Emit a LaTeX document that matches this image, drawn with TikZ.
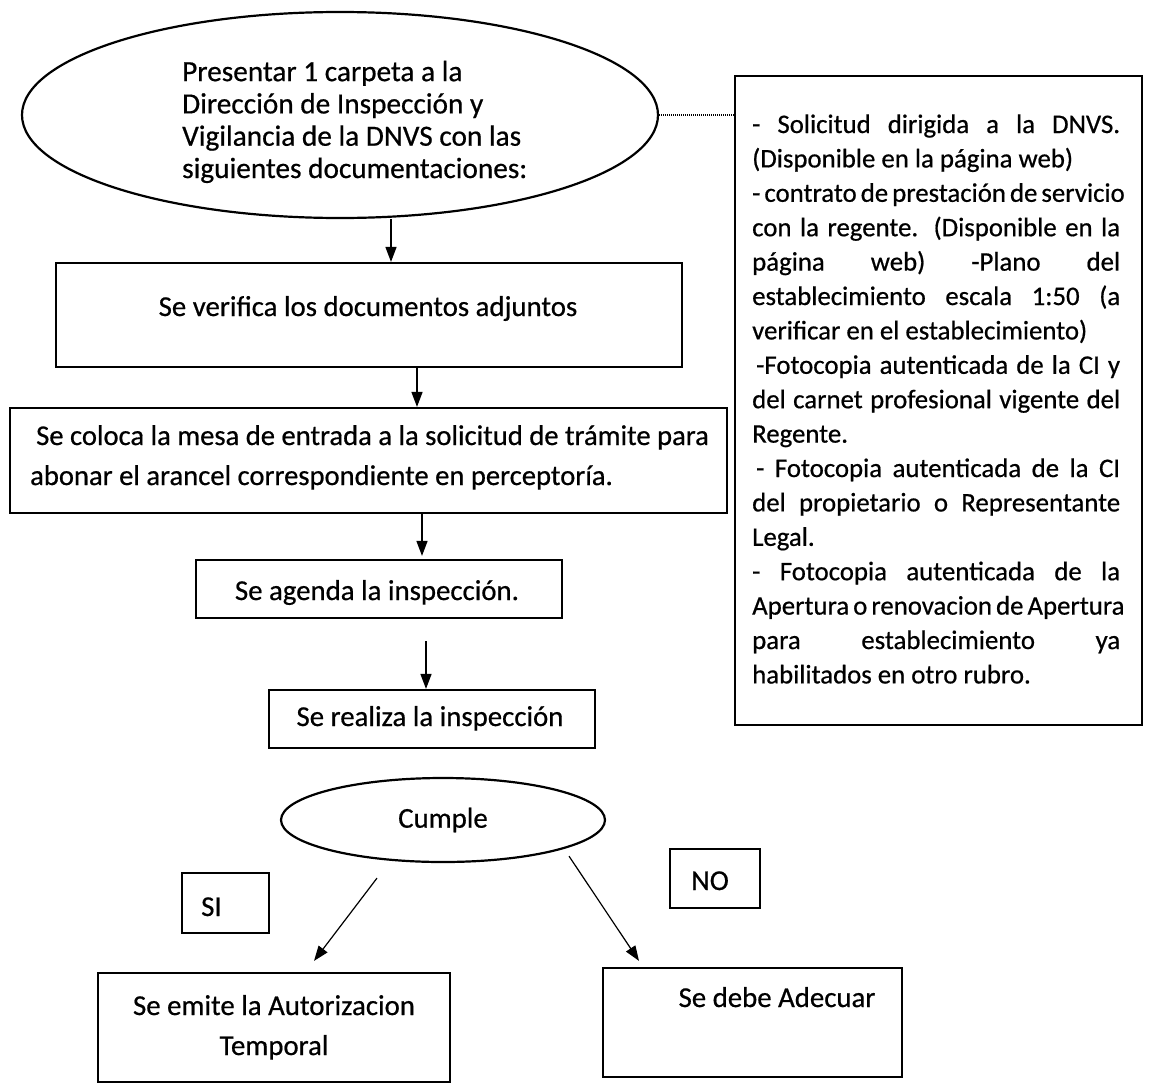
\documentclass[tikz,border=0pt]{standalone}
\usepackage{fontspec}
\setmainfont{Carlito}[FakeBold=0.6]
\usetikzlibrary{shapes.geometric,arrows.meta}
\begin{document}
\begin{tikzpicture}[x=1pt,y=-1pt,
  box/.style={draw,line width=2.2pt,rectangle,inner sep=0pt},
  oval/.style={draw,line width=2.2pt,ellipse,inner sep=0pt},
  txt/.style={inner sep=0pt,font=\fontsize{28.8}{34}\selectfont},
  arr/.style={line width=1.5pt,-{Triangle[length=15pt,width=11pt]}},
  thinarr/.style={line width=1.2pt,-{Triangle[length=15pt,width=11pt]}},
  dotline/.style={line width=1.1pt,dash pattern=on 1.2pt off 0.8pt}]
\useasboundingbox (0,0) rectangle (1156,1084);
\fill[white] (0,0) rectangle (1156,1084);

% top ellipse
\node[oval,minimum width=636pt,minimum height=206pt] (e1) at (340,115) {};
\node[txt,anchor=base west,align=left,font=\fontsize{29.3}{32.3}\selectfont] (t1) at (182,178)
  {Presentar 1 carpeta a la\\Dirección de Inspección y\\Vigilancia de la DNVS con las\\siguientes documentaciones:};

% right box
\node[box,minimum width=407pt,minimum height=649pt] (rb) at (938.5,400.5) {};
\node[txt,anchor=base west,align=left,font=\fontsize{26.8}{34.4}\selectfont] (t2) at (752,683.4)
  {\makebox[368pt][s]{- Solicitud dirigida a la DNVS.}\\
   (Disponible en la página web)\\
   \makebox[368pt][s]{- contrato de prestación de servicio}\\
   \makebox[368pt][s]{con la regente. (Disponible en la}\\
   \makebox[368pt][s]{página web) -Plano del}\\
   \makebox[368pt][s]{establecimiento escala 1:50 (a}\\
   verificar en el establecimiento)\\
   \makebox[368pt][s]{\hspace{4pt}-Fotocopia autenticada de la CI y}\\
   \makebox[368pt][s]{del carnet profesional vigente del}\\
   Regente.\\
   \makebox[368pt][s]{\hspace{4pt}- Fotocopia autenticada de la CI}\\
   \makebox[368pt][s]{del propietario o Representante}\\
   Legal.\\
   \makebox[368pt][s]{- Fotocopia autenticada de la}\\
   \makebox[368pt][s]{Apertura o renovacion de Apertura}\\
   \makebox[368pt][s]{para establecimiento ya}\\
   habilitados en otro rubro.};

\draw[dotline] (e1.east) -- (e1.east -| rb.west);

% flow boxes
\node[box,minimum width=626pt,minimum height=104pt] (b2) at (369,315) {};
\node[txt,anchor=base] (t3) at (368,316) {Se verifica los documentos adjuntos};

\node[box,minimum width=717pt,minimum height=105pt] (b3) at (368.5,460.5) {};
\node[txt,anchor=base west,align=left,font=\fontsize{28.6}{40}\selectfont] (t4) at (30,485)
  {\hspace{6pt}Se coloca la mesa de entrada a la solicitud de trámite para\\abonar el arancel correspondiente en perceptoría.};

\node[box,minimum width=366pt,minimum height=58pt] (b4) at (379,589) {};
\node[txt,anchor=base] (t5) at (377,600) {Se agenda la inspección.};

\node[box,minimum width=326pt,minimum height=58pt] (b5) at (432,719) {};
\node[txt,anchor=base] (t6) at (430,726) {Se realiza la inspección};

\node[oval,minimum width=324pt,minimum height=84pt,txt] (e2) at (443,820) {Cumple};

\node[box,minimum width=87pt,minimum height=60pt] (s1) at (225.5,903) {};
\node[txt,anchor=base west] (st) at (201,916) {SI};
\node[box,minimum width=90pt,minimum height=59pt] (n1) at (715,878.5) {};
\node[txt,anchor=base] (nt) at (710,890) {NO};

\node[box,minimum width=352pt,minimum height=109pt] (r1) at (274,1027.5) {};
\node[txt,anchor=base,align=center,font=\fontsize{28.8}{40}\selectfont] (rt1) at (274,1055)
  {Se emite la Autorizacion\\Temporal};
\node[box,minimum width=299pt,minimum height=109pt] (r2) at (752.5,1022.5) {};
\node[txt,anchor=base] (rt2) at (777,1007) {Se debe Adecuar};

% connectors
\draw[arr] ([xshift=51pt]e1.south) -- ([xshift=22pt]b2.north);
\draw[arr] ([xshift=48pt]b2.south) -- ([xshift=48.5pt]b3.north);
\draw[arr] ([xshift=53.5pt]b3.south) -- ([xshift=43pt,yshift=3pt]b4.north);
\draw[arr] ([xshift=47pt,yshift=-22pt]b4.south) -- ([xshift=-6pt]b5.north);
\draw[thinarr] ([xshift=-66pt,yshift=-15pt]e2.south) -- ([xshift=40pt,yshift=11pt]r1.north);
\draw[thinarr] ([xshift=126pt,yshift=7pt]e2.south) -- ([xshift=-113.5pt,yshift=6pt]r2.north);
\end{tikzpicture}
\end{document}
